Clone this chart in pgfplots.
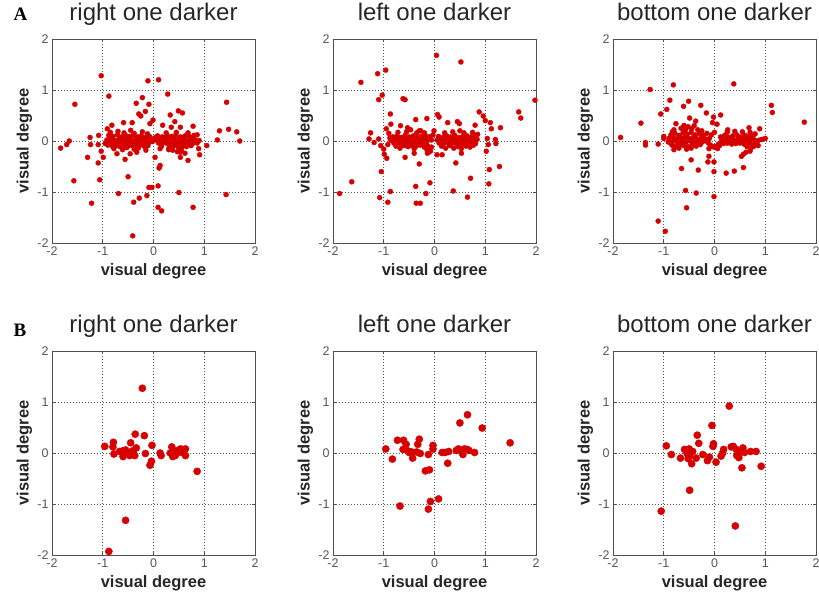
\documentclass[border=0pt]{standalone}
\usepackage{pgfplots}
\pgfplotsset{compat=1.18}
\usepackage{fontspec}
\setmainfont{Liberation Sans}
\newfontfamily\panelfont{Liberation Serif}

\definecolor{dotred}{RGB}{214,0,0}
\definecolor{boxgray}{RGB}{80,80,80}
\definecolor{ticklab}{RGB}{85,85,85}

\pgfplotsset{
  vdeg/.style={
    width=203pt, height=204pt, scale only axis,
    anchor=north west,
    xmin=-2, xmax=2, ymin=-2, ymax=2,
    xtick={-2,-1,0,1,2}, ytick={-2,-1,0,1,2},
    grid=major,
    major grid style={boxgray, dash pattern=on 0.9pt off 2.1pt, line width=0.7pt},
    axis line style={boxgray, line width=0.9pt},
    tick style={boxgray, line width=0.6pt},
    major tick length=3pt, tick align=inside,
    tick label style={font=\fontsize{12.5}{12.5}\selectfont, text=ticklab},
    /pgf/number format/assume math mode=true,
    xlabel={visual degree}, ylabel={visual degree},
    label style={font=\fontsize{16.5}{16.5}\selectfont\bfseries, text=black!85},
    xlabel style={at={(axis description cs:0.5,0)}, anchor=base, yshift=-32pt},
    ylabel style={at={(axis description cs:-0.136,0.5)}, anchor=center},
    title style={font=\fontsize{24}{24}\selectfont, text=black!85,
      at={(axis description cs:0.5,1)}, anchor=base, yshift=12.5pt},
  },
  rowA/.style={only marks, mark=*, mark size=2.5pt, color=dotred},
  rowB/.style={only marks, mark=*, mark size=3.6pt, color=dotred},
}

\begin{document}
\begin{tikzpicture}
\useasboundingbox (0,0) rectangle (819pt,-598pt);

\node[anchor=base west, font=\panelfont\bfseries\fontsize{19}{19}\selectfont] at (10pt,-20pt) {A};
\node[anchor=base west, font=\panelfont\bfseries\fontsize{19}{19}\selectfont] at (10pt,-336pt) {B};

% ---------- row A ----------
\begin{axis}[vdeg, at={(52pt,-39pt)}, title={right one darker}]
\addplot[rowA] coordinates {
(-1.03,1.28) (-0.11,1.18) (0.10,1.20) (-0.88,0.88) (0.28,0.92) (-1.55,0.72) (1.44,0.76)
(-0.22,0.85) (-0.34,0.74) (-0.09,0.72) (0.49,0.59) (0.57,0.55) (-0.29,0.53) (-0.25,0.49)
(-0.16,0.58) (0.33,0.51) (-0.01,0.41) (-0.07,0.34) (0.42,0.38) (0.18,0.31) (-0.59,0.36)
(-0.42,0.36) (-0.82,0.31) (-0.91,0.24) (0.35,0.27) (0.53,0.27) (0.78,0.29) (1.30,0.20)
(1.48,0.23) (1.64,0.18) (1.26,0.02) (1.70,0.00) (1.05,-0.09) (0.89,-0.15) (0.91,-0.27)
(0.68,-0.38) (0.53,-0.32) (-1.83,-0.14) (-1.71,-0.07) (-1.66,0.00) (-1.25,0.07) (-1.24,-0.07)
(-1.08,0.11) (-1.09,-0.07) (-1.03,-0.20) (-0.99,-0.32) (-1.30,-0.32) (-1.09,-0.43) (-1.57,-0.78)
(-1.06,-0.76) (-1.22,-1.22) (-0.69,-1.03) (-0.50,-0.70) (-0.39,-1.20) (-0.28,-1.12) (-0.13,-1.07)
(-0.09,-0.91) (-0.03,-0.91) (0.09,-0.88) (0.11,-0.53) (0.13,-0.48) (0.03,-0.32) (0.50,-1.01)
(0.09,-1.30) (0.16,-1.37) (0.78,-1.30) (1.43,-1.05) (-0.41,-1.86) (-0.56,-0.36) (-0.46,-0.25)
(-0.33,-0.22) (-0.72,-0.25) (-0.83,-0.07) (0.53,-0.22) (0.30,-0.17) (0.13,-0.15) (-0.13,-0.09)
(-0.88,0.11) (-0.80,0.09) (-0.71,0.12) (-0.63,0.08) (-0.55,0.11) (-0.47,0.09) (-0.40,0.12)
(-0.31,0.08) (-0.24,0.10) (-0.16,0.07) (-0.08,0.09)
(-0.92,0.02) (-0.84,0.04) (-0.76,0.01) (-0.68,0.03) (-0.60,0.04) (-0.52,0.02) (-0.44,0.03)
(-0.36,0.01) (-0.28,0.04) (-0.20,0.02) (-0.12,0.03) (-0.04,0.01)
(-0.87,-0.03) (-0.79,-0.02) (-0.72,-0.04) (-0.64,-0.03) (-0.56,-0.02) (-0.48,-0.04) (-0.41,-0.02)
(-0.33,-0.03) (-0.25,-0.04) (-0.17,-0.02) (-0.09,-0.03) (-0.02,-0.01)
(-0.90,-0.08) (-0.81,-0.10) (-0.74,-0.09) (-0.66,-0.11) (-0.57,-0.08) (-0.50,-0.10) (-0.42,-0.09)
(-0.35,-0.11) (-0.27,-0.08) (-0.19,-0.10) (-0.11,-0.09)
(-0.85,0.17) (-0.70,0.19) (-0.58,0.16) (-0.45,0.21) (-0.38,0.15) (-0.22,0.18) (-0.12,0.14)
(-0.78,-0.15) (-0.61,-0.17) (-0.53,-0.13) (-0.38,-0.16) (-0.30,-0.14) (-0.15,-0.18) (-0.95,-0.05)
(-0.84,0.06) (-0.66,0.06) (-0.50,0.06) (-0.34,0.06) (-0.18,0.05) (-0.75,-0.06) (-0.59,-0.06)
(-0.45,-0.06) (-0.29,-0.06) (-0.13,-0.06)
(0.08,0.10) (0.17,0.08) (0.26,0.11) (0.35,0.09) (0.44,0.12) (0.53,0.08) (0.62,0.10) (0.71,0.09) (0.80,0.11)
(0.05,0.02) (0.13,0.04) (0.22,0.01) (0.30,0.03) (0.39,0.04) (0.47,0.02) (0.56,0.03) (0.64,0.01)
(0.73,0.04) (0.82,0.02) (0.90,0.01)
(0.10,-0.04) (0.19,-0.03) (0.27,-0.05) (0.36,-0.04) (0.44,-0.03) (0.52,-0.05) (0.60,-0.04)
(0.68,-0.03) (0.77,-0.05) (0.86,-0.04)
(0.16,-0.10) (0.33,-0.11) (0.41,-0.09) (0.49,-0.12) (0.57,-0.10) (0.65,-0.11) (0.74,-0.09)
(0.38,-0.18) (0.47,-0.21) (0.55,-0.17) (0.62,-0.24) (0.25,0.16) (0.45,0.17) (0.68,0.16)
(0.86,0.12) (0.30,-0.15) (0.02,0.06)
(0.21,0.06) (0.40,0.07) (0.58,0.06) (0.76,0.06) (0.32,-0.07) (0.50,-0.07) (0.69,-0.07)
};
\end{axis}

\begin{axis}[vdeg, at={(333pt,-39pt)}, title={left one darker}]
\addplot[rowA] coordinates {
(0.04,1.68) (0.52,1.55) (-1.12,1.32) (-0.96,1.39) (-1.45,1.15) (-1.03,0.90) (-1.10,0.81)
(-0.62,0.83) (-0.58,0.81) (1.98,0.80) (1.66,0.57) (1.70,0.45) (-0.87,0.53) (0.06,0.52)
(0.09,0.47) (-0.15,0.44) (-0.37,0.42) (0.88,0.57) (0.96,0.49) (1.00,0.40) (1.10,0.36)
(1.30,0.26) (1.12,0.24) (0.80,0.31) (0.45,0.38) (0.49,0.34) (0.26,0.36) (-0.67,0.30)
(-0.53,0.26) (-0.95,0.24) (-1.26,0.16) (-1.29,0.04) (-1.19,-0.03) (-1.10,0.04) (-1.06,-0.09)
(-1.00,-0.16) (-0.99,-0.26) (-0.94,-0.34) (-0.58,-0.32) (-0.30,-0.45) (-0.40,-0.24) (-0.14,-0.24)
(0.05,-0.27) (0.15,-0.27) (0.53,-0.24) (0.42,-0.43) (0.71,-0.73) (1.02,-0.20) (1.04,0.05)
(1.06,-0.07) (1.20,0.03) (1.21,-0.05) (1.08,-0.56) (1.28,-0.50) (1.07,-0.84) (-1.05,-0.60)
(-1.63,-0.80) (-1.87,-1.03) (-1.08,-1.11) (-0.92,-1.20) (-0.87,-0.99) (-0.37,-0.89) (-0.17,-1.03)
(-0.09,-0.82) (-0.36,-1.22) (-0.28,-1.22) (0.37,-0.98) (0.65,-1.10) (-0.86,0.33) (-0.30,0.20)
(-0.82,0.08) (-0.74,0.10) (-0.66,0.07) (-0.58,0.11) (-0.50,0.08) (-0.42,0.10) (-0.34,0.07)
(-0.26,0.09) (-0.18,0.11) (-0.10,0.08)
(-0.86,0.01) (-0.78,0.03) (-0.70,0.00) (-0.62,0.02) (-0.54,0.03) (-0.46,0.01) (-0.38,0.02)
(-0.30,0.00) (-0.22,0.03) (-0.14,0.01) (-0.06,0.02)
(-0.80,-0.04) (-0.72,-0.03) (-0.64,-0.05) (-0.56,-0.04) (-0.48,-0.03) (-0.40,-0.05) (-0.32,-0.04)
(-0.24,-0.03) (-0.16,-0.05)
(-0.76,-0.10) (-0.60,-0.09) (-0.52,-0.11) (-0.44,-0.09) (-0.36,-0.10) (-0.28,-0.08) (-0.20,-0.12)
(-0.13,-0.10) (-0.10,-0.15) (-0.08,-0.20) (-0.12,-0.22) (-0.06,-0.12) (-0.15,-0.17)
(-0.90,0.15) (-0.72,0.17) (-0.55,0.18) (-0.47,0.22) (-0.35,0.16) (-0.27,0.20) (-0.20,0.16)
(-0.92,-0.07) (-0.68,-0.14) (-0.40,-0.15) (-0.88,0.06) (-0.03,0.12) (-0.01,0.20)
(-0.68,0.05) (-0.52,0.05) (-0.36,0.05) (-0.20,0.06) (-0.66,-0.07) (-0.50,-0.07) (-0.34,-0.07)
(0.08,0.09) (0.16,0.07) (0.24,0.10) (0.32,0.08) (0.40,0.11) (0.48,0.07) (0.56,0.09) (0.64,0.10)
(0.72,0.08) (0.80,0.11)
(0.05,0.02) (0.12,0.00) (0.20,0.03) (0.28,0.01) (0.36,0.02) (0.44,0.00) (0.52,0.03) (0.60,0.01)
(0.68,0.02) (0.76,0.00) (0.84,0.03)
(0.09,-0.04) (0.17,-0.05) (0.25,-0.03) (0.33,-0.05) (0.41,-0.04) (0.49,-0.03) (0.57,-0.05)
(0.65,-0.04) (0.73,-0.03) (0.81,-0.05)
(0.14,-0.10) (0.30,-0.09) (0.46,-0.11) (0.62,-0.10) (0.70,-0.12)
(0.20,0.16) (0.36,0.18) (0.50,0.20) (0.58,0.16) (0.75,0.17) (0.85,0.13) (0.38,-0.14)
(0.53,-0.15) (0.22,-0.14)
(0.24,0.05) (0.44,0.05) (0.64,0.05) (0.80,0.05) (0.29,-0.07) (0.53,-0.07) (0.77,-0.08)
};
\end{axis}

\begin{axis}[vdeg, at={(613pt,-39pt)}, title={bottom one darker}]
\addplot[rowA] coordinates {
(-0.81,1.10) (0.38,1.12) (-1.27,1.01) (-0.88,0.80) (-0.51,0.78) (-0.61,0.68) (-0.27,0.70)
(-0.94,0.62) (-1.06,0.53) (-0.16,0.55) (0.12,0.51) (-0.02,0.47) (-0.49,0.45) (-1.45,0.35)
(1.12,0.70) (1.14,0.56) (1.77,0.37) (-1.85,0.07) (-1.36,-0.03) (-1.36,-0.08) (-1.11,-0.06)
(-1.00,0.09) (-1.00,0.05) (-0.76,0.34) (-0.60,0.30) (-0.37,0.39) (-0.04,0.36) (0.05,0.33)
(0.26,0.22) (0.89,0.24) (0.68,0.26) (-0.46,-0.37) (-0.11,-0.30) (-0.13,-0.41) (-0.01,-0.41)
(-0.01,-0.60) (-0.65,-0.54) (-0.32,-0.57) (0.23,-0.63) (0.39,-0.59) (0.57,-0.52) (0.53,-0.30)
(0.57,-0.26) (0.62,-0.22) (0.70,-0.20) (0.72,-0.14) (0.86,-0.09) (0.95,0.03) (1.00,0.05)
(-0.57,-0.97) (-0.36,-1.02) (-0.01,-1.09) (-0.55,-1.31) (-1.11,-1.57) (-0.97,-1.77)
(-0.83,0.18) (-0.91,-0.02) (-0.80,-0.17) (-0.11,-0.15) (0.06,-0.15)
(-0.86,0.12) (-0.78,0.15) (-0.70,0.11) (-0.62,0.16) (-0.54,0.13) (-0.46,0.17) (-0.38,0.12)
(-0.30,0.15) (-0.22,0.11)
(-0.90,0.05) (-0.82,0.07) (-0.74,0.04) (-0.66,0.06) (-0.58,0.08) (-0.50,0.05) (-0.42,0.07)
(-0.34,0.04) (-0.26,0.06) (-0.18,0.04)
(-0.88,-0.02) (-0.80,0.00) (-0.72,-0.03) (-0.64,-0.01) (-0.56,-0.02) (-0.48,0.00) (-0.40,-0.03)
(-0.32,-0.01) (-0.24,-0.02) (-0.16,0.00)
(-0.84,-0.08) (-0.76,-0.10) (-0.68,-0.07) (-0.60,-0.09) (-0.52,-0.11) (-0.44,-0.08) (-0.36,-0.10)
(-0.28,-0.07) (-0.70,-0.14) (-0.55,-0.16) (-0.46,-0.14)
(-0.80,0.22) (-0.66,0.25) (-0.57,0.22) (-0.52,0.28) (-0.45,0.24) (-0.40,0.30) (-0.33,0.22)
(-0.25,0.20) (-0.60,0.30)
(-0.12,-0.04) (-0.08,-0.08) (-0.04,-0.11) (0.00,-0.12) (0.04,-0.10) (0.08,-0.06) (-0.10,0.05)
(-0.06,0.12) (-0.15,0.15) (0.00,0.17)
(0.12,0.08) (0.20,0.11) (0.28,0.07) (0.36,0.10) (0.44,0.12) (0.52,0.08) (0.60,0.11) (0.68,0.09)
(0.76,0.10)
(0.14,0.01) (0.22,0.03) (0.30,0.00) (0.38,0.02) (0.46,0.04) (0.54,0.01) (0.62,0.03) (0.70,0.00)
(0.78,0.02) (0.86,0.01) (0.92,0.03)
(0.18,-0.05) (0.26,-0.04) (0.34,-0.06) (0.42,-0.05) (0.50,-0.04) (0.58,-0.06) (0.66,-0.05)
(0.74,-0.07) (0.82,-0.05)
(0.25,0.17) (0.40,0.19) (0.55,0.18) (0.70,0.17) (0.80,0.14) (0.10,-0.09) (0.64,-0.11) (0.78,-0.10)
(-0.62,0.02) (-0.46,0.02) (-0.30,0.02) (-0.78,0.04) (0.34,0.05) (0.58,0.05) (0.74,0.05) (0.22,-0.02)
};
\end{axis}

% ---------- row B ----------
\begin{axis}[vdeg, at={(52pt,-351pt)}, title={right one darker}]
\addplot[rowB] coordinates {
(-0.22,1.27) (-0.96,0.13) (-0.79,0.21) (-0.80,0.12) (-0.78,-0.02) (-0.67,0.03) (-0.60,-0.07)
(-0.55,0.06) (-0.51,0.00) (-0.45,0.20) (-0.43,0.03) (-0.36,0.37) (-0.34,0.10) (-0.37,-0.05)
(-0.18,0.34) (-0.16,-0.01) (-0.03,0.15) (-0.04,-0.16) (-0.07,-0.24) (0.13,0.00) (0.15,-0.05)
(0.36,0.12) (0.33,0.00) (0.43,-0.05) (0.45,0.04) (0.53,0.08) (0.58,0.07) (0.63,0.08)
(0.63,-0.05) (0.86,-0.36) (-0.55,-1.32) (-0.88,-1.93) (-0.61,0.04) (-0.47,-0.05) (-0.39,0.05)
(0.38,-0.07) (0.55,0.01)
};
\end{axis}

\begin{axis}[vdeg, at={(333pt,-351pt)}, title={left one darker}]
\addplot[rowB] coordinates {
(-0.96,0.08) (-0.83,-0.12) (-0.73,0.25) (-0.61,0.25) (-0.56,0.17) (-0.62,0.07) (-0.52,0.04)
(-0.45,0.02) (-0.43,-0.10) (-0.35,0.02) (-0.30,0.27) (-0.33,0.17) (-0.28,-0.01) (-0.12,-0.03)
(-0.03,0.15) (-0.03,0.08) (-0.18,-0.35) (-0.10,-0.33) (0.15,0.01) (0.21,0.01) (0.28,0.03)
(0.26,-0.20) (0.43,0.05) (0.47,0.08) (0.50,0.59) (0.65,0.75) (0.56,-0.03) (0.59,0.08)
(0.64,0.07) (0.68,0.05) (0.79,0.01) (0.94,0.49) (1.49,0.20) (-0.68,-1.04) (-0.08,-0.95)
(0.08,-0.90) (-0.12,-1.10) (-0.50,0.01) (0.54,0.01)
};
\end{axis}

\begin{axis}[vdeg, at={(613pt,-351pt)}, title={bottom one darker}]
\addplot[rowB] coordinates {
(0.29,0.92) (-0.05,0.54) (-0.34,0.35) (-0.31,0.19) (-0.95,0.14) (-0.85,-0.03) (-0.67,-0.10)
(-0.59,0.07) (-0.54,-0.01) (-0.50,0.08) (-0.49,-0.06) (-0.45,-0.21) (-0.43,0.03) (-0.36,-0.10)
(-0.23,-0.03) (-0.14,-0.15) (-0.10,-0.08) (-0.03,0.13) (-0.02,0.18) (0.03,-0.18) (0.13,-0.06)
(0.16,0.00) (0.18,0.07) (0.33,0.12) (0.37,0.13) (0.43,0.07) (0.48,-0.09) (0.51,0.02)
(0.56,0.10) (0.59,0.01) (0.54,-0.29) (0.71,0.03) (0.82,0.03) (0.92,-0.26) (-0.49,-0.73)
(-1.05,-1.14) (0.41,-1.43) (-0.52,-0.11) (0.44,-0.05)
};
\end{axis}

\end{tikzpicture}
\end{document}
